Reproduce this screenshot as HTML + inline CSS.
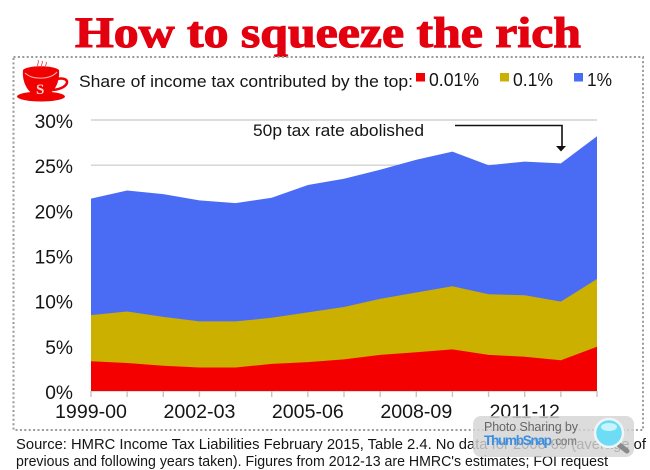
<!DOCTYPE html>
<html lang="en">
<head>
<meta charset="utf-8">
<title>How to squeeze the rich</title>
<style>
html,body{margin:0;padding:0;background:#fff;width:650px;height:470px;overflow:hidden}
svg{display:block;filter:blur(.35px)}
text{font-family:"Liberation Sans",sans-serif;fill:#151515}
</style>
</head>
<body>
<svg id="chart" xmlns="http://www.w3.org/2000/svg" width="650" height="470" viewBox="0 0 650 470">
  <text x="75" y="47" textLength="506" lengthAdjust="spacingAndGlyphs" stroke="#e3000f" stroke-width="1.1" style="font-family:'Liberation Serif',serif;font-weight:bold;font-size:43px;fill:#e3000f">How to squeeze the rich</text>
  <rect x="13.5" y="57" width="629.5" height="373" fill="none" stroke="#9a9a9a" stroke-width="2" stroke-dasharray="2 2.4"/>
  <g>
    <ellipse cx="41" cy="96.5" rx="24" ry="5" fill="#f00000"/>
    <path d="M23 70 C27 65 54 65 59 70 C60 80 56 90 49 94 L33 94 C26 90 22 80 23 70 Z" fill="#f00000"/>
    <path d="M57 79 C71 76 71 88 53 90" fill="none" stroke="#f00000" stroke-width="2.5"/>
    <path d="M25 73 C32 80 50 80 57 72" fill="none" stroke="#ffb0b0" stroke-width="1"/>
    <path d="M38 67 C36 64 40 63 38 60 M42 67 C40 64 44 63 42 61 M46 67 C44 65 48 64 46 62" fill="none" stroke="#f06060" stroke-width="1"/>
    <text x="36" y="94" style="font-family:'Liberation Serif',serif;font-weight:bold;font-size:15px;fill:#ffd0d0">S</text>
  </g>
  <text x="79" y="87" textLength="334" lengthAdjust="spacingAndGlyphs" font-size="17">Share of income tax contributed by the top:</text>
  <rect x="416" y="73" width="9" height="8.5" fill="#f50000"/>
  <text x="429" y="86" font-size="18" textLength="50" lengthAdjust="spacingAndGlyphs">0.01%</text>
  <rect x="500" y="73" width="9" height="8.5" fill="#ccb000"/>
  <text x="513" y="86" font-size="18" textLength="40" lengthAdjust="spacingAndGlyphs">0.1%</text>
  <rect x="574" y="73" width="9" height="8.5" fill="#4a6cf5"/>
  <text x="587" y="86" font-size="18" textLength="25" lengthAdjust="spacingAndGlyphs">1%</text>
  <g id="plot"></g>
  <text x="253" y="136" font-size="17" textLength="171" lengthAdjust="spacingAndGlyphs">50p tax rate abolished</text>
  <path d="M455 125.5 H562 V147" fill="none" stroke="#111" stroke-width="1.6"/>
  <path d="M556 146 H566 L561 151.5 Z" fill="#111"/>
  <text x="16" y="449" font-size="14.5" textLength="630" lengthAdjust="spacingAndGlyphs" fill="#222">Source: HMRC Income Tax Liabilities February 2015, Table 2.4. No data for 2008-09 (average of</text>
  <text x="16" y="466" font-size="14.5" textLength="592" lengthAdjust="spacingAndGlyphs" fill="#222">previous and following years taken). Figures from 2012-13 are HMRC's estimates; FOI request</text>
  <g>
    <rect x="473" y="416" width="161" height="41" rx="8" fill="#d4d4d4" fill-opacity=".82"/>
    <text x="484" y="431" font-size="12.5" textLength="94" style="fill:#666">Photo Sharing by</text>
    <text x="484" y="445" font-size="13.5" font-weight="bold" textLength="68" style="fill:#3c8fe0">ThumbSnap</text>
    <text x="552" y="445" font-size="11.5" style="fill:#777">.com</text>
    <path d="M618 444 L627 451" stroke="#8a8a8a" stroke-width="5" stroke-linecap="round"/>
    <circle cx="609" cy="433" r="14" fill="#6fdcf5" stroke="#eef6f8" stroke-width="2.5"/>
    <ellipse cx="609" cy="427" rx="8" ry="4" fill="#c8f4fc"/>
  </g>
</svg>
<script>
const categories = ["1999-00","2000-01","2001-02","2002-03","2003-04","2004-05","2005-06","2006-07","2007-08","2008-09","2009-10","2010-11","2011-12","2012-13","2013-14"];
const shareTop001 = [3.3,3.1,2.8,2.6,2.6,3.0,3.2,3.5,4.0,4.3,4.6,4.0,3.8,3.4,4.9];
const shareTop01 = [8.4,8.8,8.2,7.7,7.7,8.1,8.7,9.3,10.2,10.9,11.6,10.7,10.6,9.9,12.4];
const shareTop1 = [21.3,22.2,21.8,21.1,20.8,21.4,22.8,23.5,24.5,25.6,26.5,25.0,25.4,25.2,28.2];
const yTicks = [0,5,10,15,20,25,30];
const xLabelEvery = 3;

const NS = "http://www.w3.org/2000/svg";
const plot = document.getElementById("plot");
const xLeft = 91, xRight = 597, yBase = 391, yTop = 120, yMax = 30;
function xScale(i){ return xLeft + (xRight - xLeft) * i / (categories.length - 1); }
function yScale(v){ return yBase - (yBase - yTop) * v / yMax; }
function make(tag, attrs, parent){
  const el = document.createElementNS(NS, tag);
  for (const k in attrs) el.setAttribute(k, attrs[k]);
  (parent || plot).appendChild(el);
  return el;
}
yTicks.forEach(function(t){
  const line = make("line", {x1:xLeft, x2:xRight, y1:yScale(t), y2:yScale(t), stroke:"#d2d2d2", "stroke-width":1.4});
  
  
  const label = make("text", {x:73, y:yScale(t)+8, "text-anchor":"end", "font-size":19.2});
  label.textContent = t + "%";
  
  
});
function drawArea(values, color){
  let d = "M" + xScale(0) + " " + yScale(0);
  values.forEach(function(v, i){ d += " L" + xScale(i).toFixed(1) + " " + yScale(v).toFixed(1); });
  d += " L" + xScale(values.length - 1) + " " + yScale(0) + " Z";
  return make("path", {d:d, fill:color});
}
const areaBlue = drawArea(shareTop1, "#4a6cf5");


const areaGold = drawArea(shareTop01, "#ccb000");


const areaRed = drawArea(shareTop001, "#f50000");


categories.forEach(function(c, i){
  const tick = make("line", {x1:xScale(i), x2:xScale(i), y1:yBase, y2:yBase+6, stroke:"#c4c4c4", "stroke-width":1.4});
  
  
  if (i % xLabelEvery === 0 && i < categories.length - 1) {
    const label = make("text", {x:xScale(i), y:418, "text-anchor":"middle", "font-size":19.6});
    label.textContent = c;
    
    
  }
});
</script>
</body>
</html>
